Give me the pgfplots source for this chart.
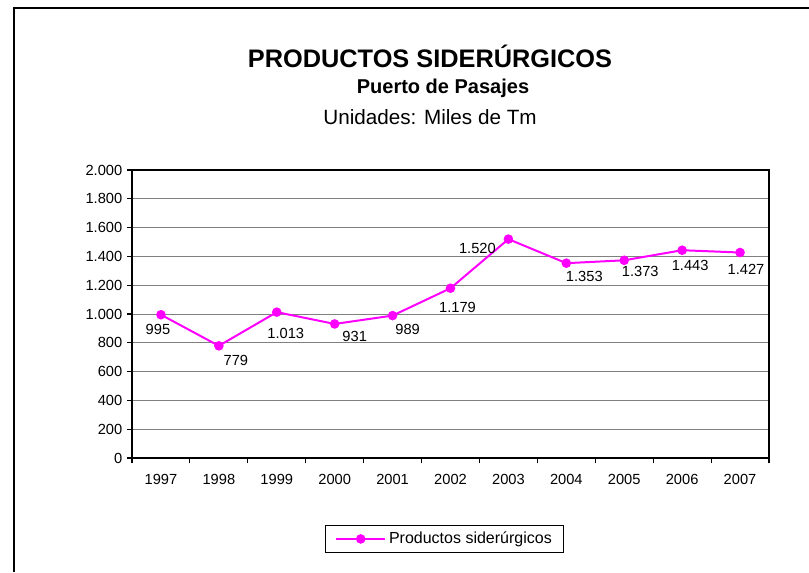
\documentclass[border=0pt]{standalone}
\usepackage{fontspec}
\setmainfont{Liberation Sans}
\usepackage{pgfplots}
\pgfplotsset{compat=1.18}
\definecolor{serie}{RGB}{255,0,255}
\definecolor{rejilla}{RGB}{128,128,128}

\begin{document}
\begin{tikzpicture}[x=0.75pt,y=-0.75pt]
\path[use as bounding box] (0,0) rectangle (809,572);
% marco exterior (solo izquierda y arriba son visibles)
\draw[line width=1.5pt] (14,572) -- (14,8) -- (809,8);

\node[font=\fontsize{19}{22}\selectfont\bfseries] at (430,56) {PRODUCTOS SIDERÚRGICOS};
\node[font=\fontsize{15}{18}\selectfont\bfseries] at (443,88) {Puerto de Pasajes};
\node[font=\fontsize{15.5}{18}\selectfont] at (430,117) {Unidades: Miles de Tm};

\begin{axis}[
    at={(99pt,-343.5pt)}, anchor=south west,
    scale only axis,
    width=477.75pt, height=216pt,
    xmin=-0.5, xmax=10.5,
    ymin=0, ymax=2000,
    xtick={0,...,10},
    xticklabels={1997,1998,1999,2000,2001,2002,2003,2004,2005,2006,2007},
    xtick pos=bottom, ytick pos=left,
    x tick style={draw=none},
    extra x ticks={-0.5,0.5,...,10.5},
    extra x tick labels={},
    extra x tick style={x tick style={draw=black, line width=0.8pt}, tick align=outside, major tick length=4pt},
    xticklabel style={yshift=-5pt},
    ytick={0,200,...,2000},
    y tick style={black, line width=0.8pt},
    tick align=outside,
    major tick length=3.75pt,
    ymajorgrids,
    grid style={rejilla, line width=0.75pt},
    axis line style={line width=1.5pt},
    tick label style={font=\fontsize{11}{13}\selectfont},
    /pgf/number format/assume math mode=true,
    /pgf/number format/.cd, 1000 sep={.}, /pgfplots/.cd,
    legend style={
        at={(0.491,-0.281)}, anchor=center,
        draw=black, line width=0.75pt,
        font=\fontsize{12}{14}\selectfont,
        inner xsep=7pt, inner ysep=3pt,
    },
    legend image code/.code={
        \draw[mark repeat=2, mark phase=2] plot coordinates {(0cm,0cm) (0.65cm,0cm) (1.3cm,0cm)};
    },
]

\addplot[serie, line width=1.5pt, mark=*, mark size=2.8pt, mark options={fill=serie, draw=serie}]
coordinates {
    (0,995) (1,779) (2,1013) (3,931) (4,989) (5,1179)
    (6,1520) (7,1353) (8,1373) (9,1443) (10,1427)
};
\addlegendentry{Productos siderúrgicos}

% etiquetas de datos
\begin{scope}[every node/.style={font=\fontsize{11}{13}\selectfont}]
\node[xshift=-2.25pt, yshift=-11.25pt] at (axis cs:0,995)  {995};
\node[xshift=12.75pt, yshift=-11.25pt] at (axis cs:1,779)  {779};
\node[xshift=6.75pt,  yshift=-15.75pt] at (axis cs:2,1013) {1.013};
\node[xshift=15pt,    yshift=-9.75pt]  at (axis cs:3,931)  {931};
\node[xshift=11.25pt, yshift=-10.5pt]  at (axis cs:4,989)  {989};
\node[xshift=5.25pt,  yshift=-14.25pt] at (axis cs:5,1179) {1.179};
\node[xshift=-23.25pt,yshift=-6.75pt]  at (axis cs:6,1520) {1.520};
\node[xshift=13.5pt,  yshift=-9.75pt]  at (axis cs:7,1353) {1.353};
\node[xshift=12pt,    yshift=-8.25pt]  at (axis cs:8,1373) {1.373};
\node[xshift=6pt,     yshift=-11.25pt] at (axis cs:9,1443) {1.443};
\node[xshift=4.5pt,   yshift=-12.75pt] at (axis cs:10,1427){1.427};
\end{scope}

\end{axis}
\end{tikzpicture}
\end{document}
